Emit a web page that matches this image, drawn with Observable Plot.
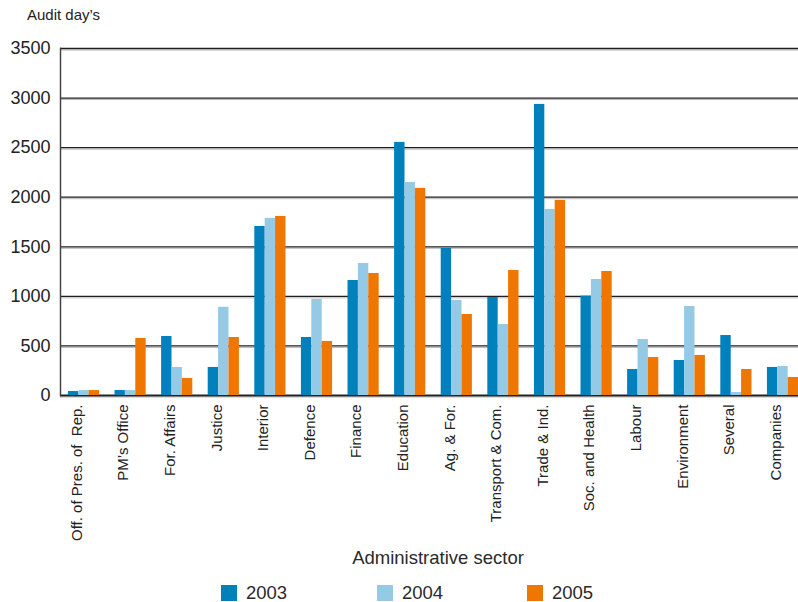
<!DOCTYPE html>
<html>
<head>
<meta charset="utf-8">
<script src="https://cdn.jsdelivr.net/npm/d3@7"></script>
<script src="https://cdn.jsdelivr.net/npm/@observablehq/plot@0.6"></script>
<style>
  html, body { margin: 0; padding: 0; background: #fff; overflow: hidden; }
  #wrap { position: relative; width: 798px; height: 602px; overflow: hidden; font-family: "Liberation Sans", Arial, sans-serif; color: #222; }
  #chart { position: absolute; left: 0; top: 0; }
  .abs { position: absolute; white-space: nowrap; }
  #title { left: 27px; top: 6.6px; font-size: 15px; line-height: 15px; }
  #xlabel { left: 438px; top: 549px; transform: translateX(-50%); font-size: 18.5px; line-height: 18.5px; color: #2a2a2a; }
  .sw { position: absolute; top: 585px; width: 16px; height: 16px; }
  .lt { position: absolute; top: 584.3px; font-size: 18.5px; line-height: 18.5px; color: #2a2a2a; }
</style>
</head>
<body>
<div id="wrap">
  <div id="chart"></div>
  <div id="title" class="abs"></div>
  <div id="xlabel" class="abs"></div>
  <div id="legend"></div>
</div>
<script>
const sectors = ["Off. of Pres. of  Rep.", "PM’s Office", "For. Affairs", "Justice", "Interior", "Defence", "Finance", "Education", "Ag. & For.", "Transport & Com.", "Trade & Ind.", "Soc. and Health", "Labour", "Environment", "Several", "Companies"];
const years = ["2003", "2004", "2005"];
const v2003 = [40, 50, 595, 283, 1705, 585, 1160, 2553, 1483, 989, 2936, 1002, 262, 353, 605, 283];
const v2004 = [50, 50, 283, 890, 1786, 969, 1332, 2149, 959, 716, 1877, 1170, 565, 898, 30, 293];
const v2005 = [50, 575, 172, 585, 1806, 545, 1231, 2089, 817, 1261, 1968, 1251, 383, 404, 262, 182];
const colors = ["#0081bb", "#95cae6", "#ee7601"];
const yTicks = [0, 500, 1000, 1500, 2000, 2500, 3000, 3500];
const titleText = "Audit day’s";
const xLabelText = "Administrative sector";

const series = [v2003, v2004, v2005];
const data = years.map((yr, k) => sectors.map((s, i) => ({sector: s, year: yr, value: series[k][i]})));

// band geometry
const r0 = 78.3, r1 = 787.7, padIn = 0.777;
const step = (r1 - r0) / (sectors.length - padIn);
const bw = step * (1 - padIn);

const chart = Plot.plot({
  width: 798,
  height: 575,
  marginTop: 48,
  marginLeft: 60,
  marginRight: 0,
  marginBottom: 180,
  style: {fontFamily: "'Liberation Sans', Arial, sans-serif", color: "#222", background: "white", overflow: "hidden"},
  x: {type: "band", domain: sectors, range: [r0, r1], paddingInner: padIn, paddingOuter: 0, round: false},
  y: {domain: [0, 3500]},
  marks: [
    Plot.ruleY(yTicks.filter(d => d > 0), {stroke: "#b8b8b8", strokeWidth: 1, dy: 1.5}),
    Plot.ruleY(yTicks.filter(d => d > 0), {stroke: "#1e1e1e", strokeWidth: 1.3}),
    Plot.ruleY([0], {stroke: "#b8b8b8", strokeWidth: 1, dy: 1.5}),
    Plot.ruleY([0], {stroke: "#222", strokeWidth: 2.2}),
    ...data.map((d, k) => Plot.barY(d, {x: "sector", y: "value", fill: colors[k], dx: (k - 1) * bw})),
    Plot.frame({anchor: "left", stroke: "#444", strokeWidth: 1.5}),
    Plot.axisY({ticks: yTicks, tickSize: 0, tickPadding: 10, fontSize: 18, label: null, tickFormat: d => String(d)}),
    Plot.axisX({tickSize: 0, tickRotate: -90, tickPadding: 9, fontSize: 15, label: null, dx: -7})
  ]
});
document.getElementById("chart").appendChild(chart);
document.getElementById("title").textContent = titleText;
document.getElementById("xlabel").textContent = xLabelText;

const legendX = [221, 377, 527];
const legend = document.getElementById("legend");
years.forEach((yr, k) => {
  const sw = document.createElement("div");
  sw.className = "sw";
  sw.style.left = legendX[k] + "px";
  sw.style.background = colors[k];
  legend.appendChild(sw);
  const t = document.createElement("div");
  t.className = "lt";
  t.style.left = (legendX[k] + 25) + "px";
  t.textContent = yr;
  legend.appendChild(t);
});
</script>
</body>
</html>
